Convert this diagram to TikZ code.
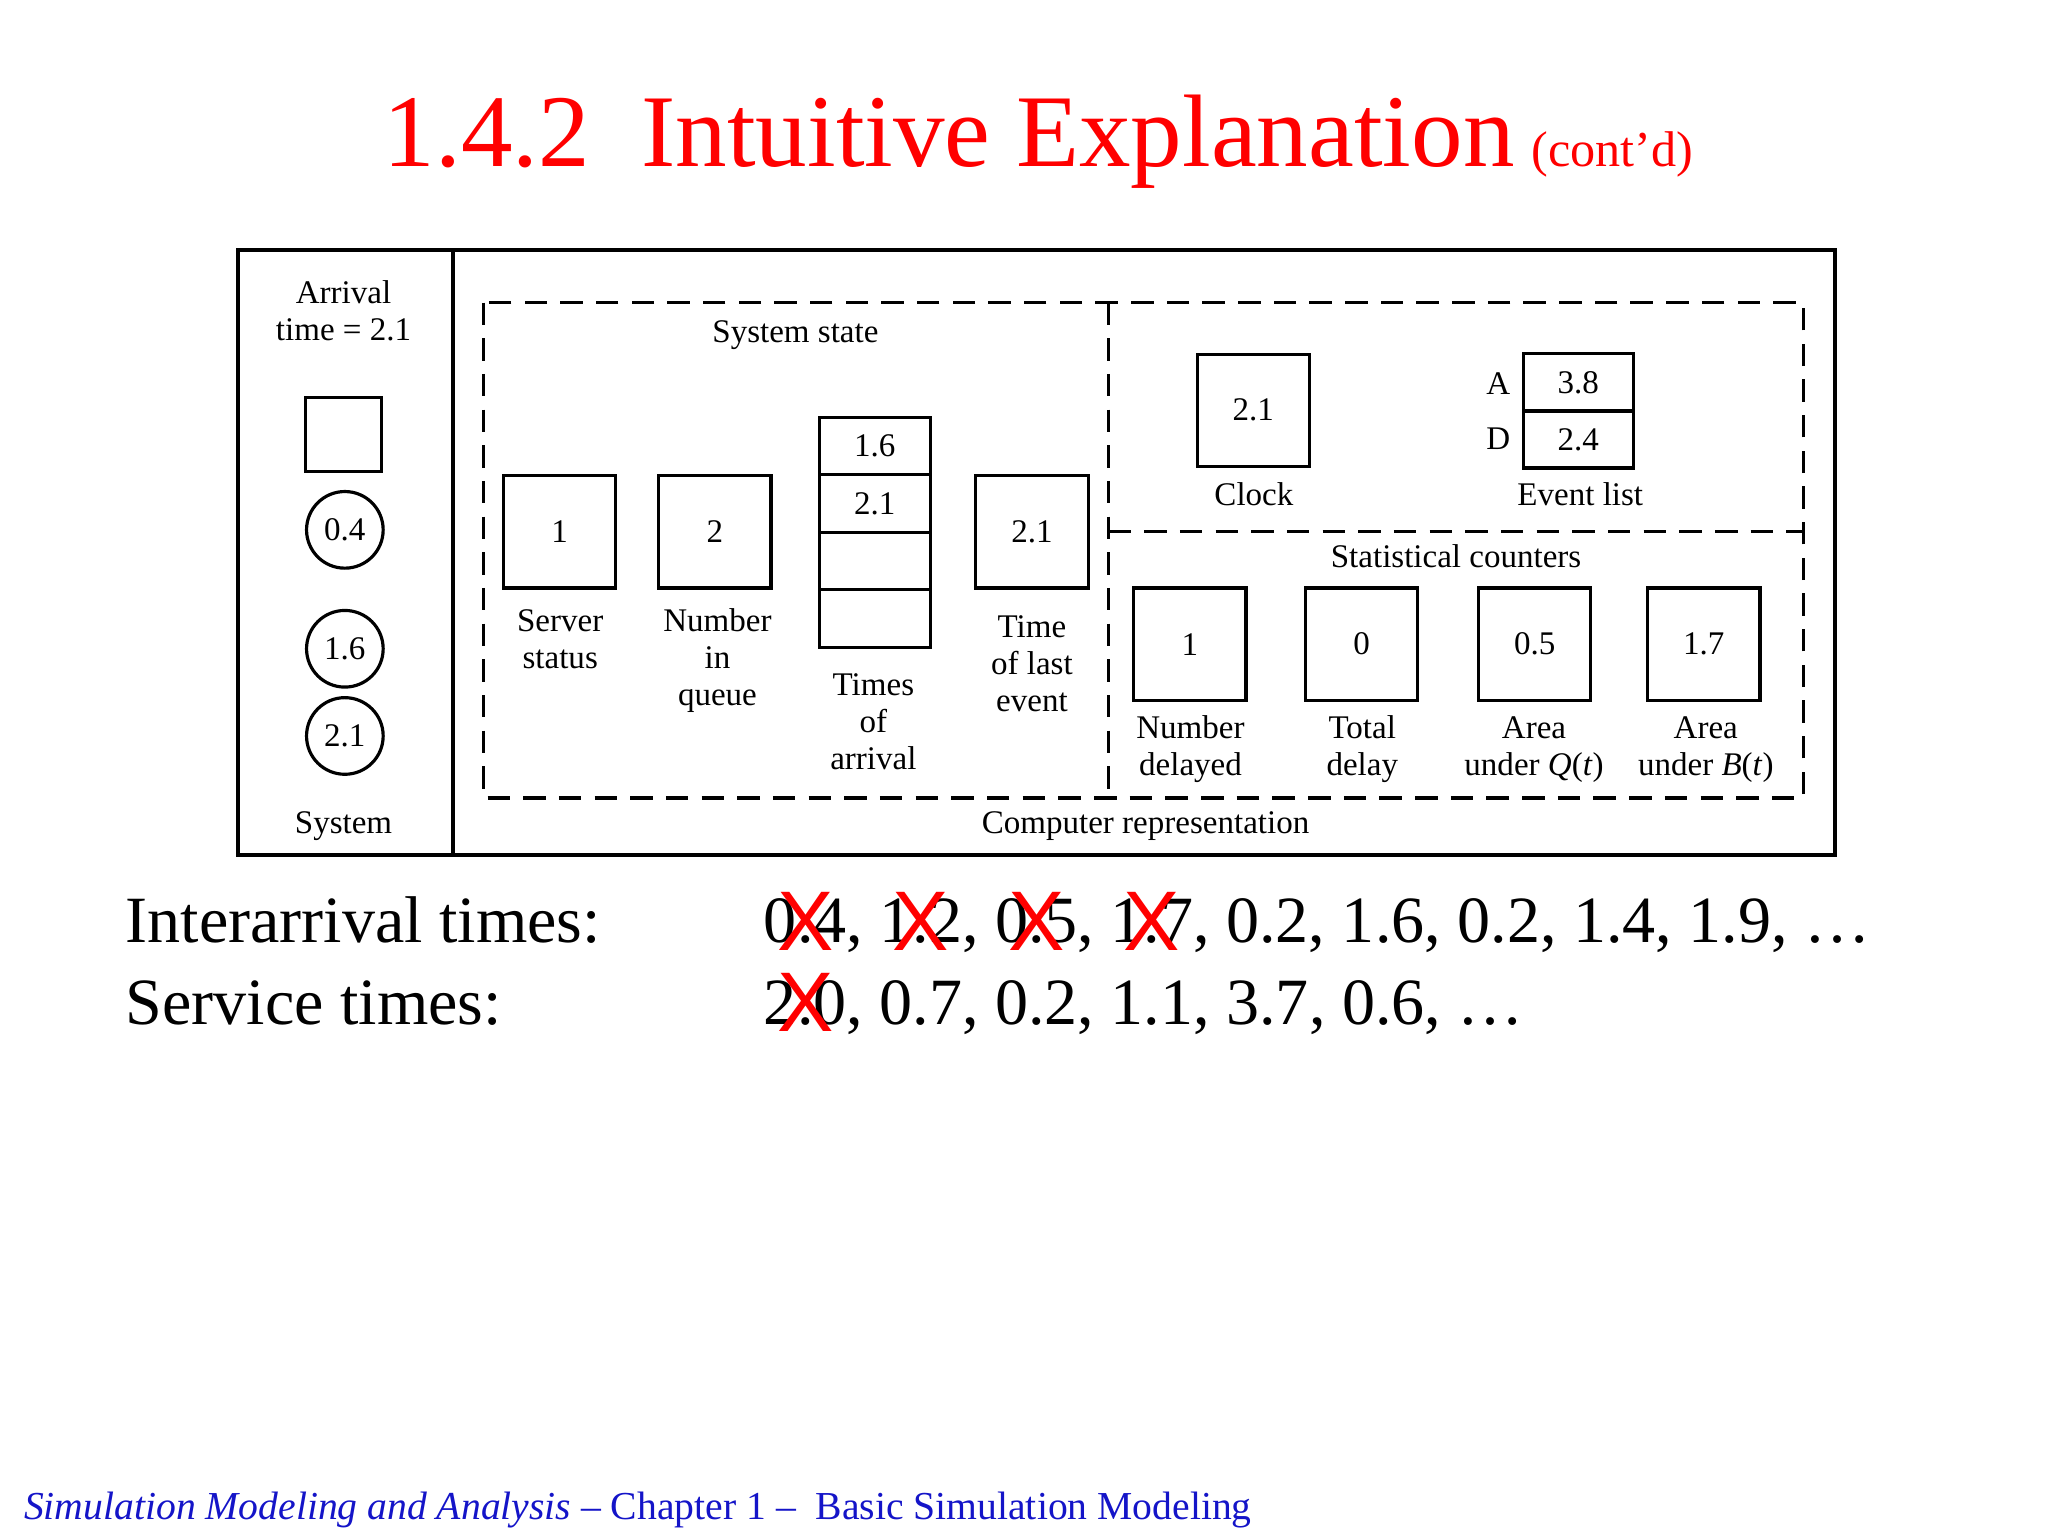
\documentclass[tikz,border=0pt]{standalone}
\usepackage{fontspec}
\setmainfont{Liberation Serif}
\setsansfont{Liberation Sans}
\begin{document}
\begin{tikzpicture}[x=1pt,y=-1pt,
  every node/.style={font=\fontsize{25}{28}\selectfont, align=center, inner sep=0pt},
  bx/.style={draw, line width=2.4pt, minimum width=85pt, minimum height=85pt},
  cell/.style={draw, line width=2.4pt, minimum width=84pt, minimum height=43.5pt},
  cir/.style={draw, circle, line width=2.4pt, minimum size=58pt},
  dsh/.style={line width=2.4pt, dash pattern=on 17pt off 10pt}]
\useasboundingbox (0,0) rectangle (1550,1162.5);
\node[text=red, anchor=base] (title) at (786,126) {\fontsize{78}{78}\selectfont 1.4.2\enspace Intuitive Explanation\,{\fontsize{38}{38}\selectfont(cont'd)}};
% frame
\draw[line width=3pt] (180,189) rectangle (1389,647);
\draw[line width=3pt] (343,189) -- (343,647);
\node (arr) at (260,235) {Arrival\\time = 2.1};
\node[draw, line width=2.4pt, minimum width=58pt, minimum height=56pt] (sq) at (260,329) {};
\node[cir] (c1) at (261,401) {0.4};
\node[cir] (c2) at (261,491) {1.6};
\node[cir] (c3) at (261,557) {2.1};
\node (sys) at (260,625) {System};
% dashed
\draw[dsh] (366,229) rectangle (1365,604);
\draw[dsh] (839,229) -- (839,604);
\draw[dsh] (839,402) -- (1365,402);
\node (ss) at (602,254) {System state};
\node[bx] (srv) at (423.5,402.5) {1};
\node[bx] (nq) at (541,402.5) {2};
\node[cell] (t1) at (662,337.5) {1.6};
\node[cell] (t2) at (662,381) {2.1};
\node[cell] (t3) at (662,424.5) {};
\node[cell] (t4) at (662,468) {};
\node[bx] (tle) at (781,402.5) {2.1};
\node (lsrv) at (424,484) {Server\\status};
\node (lnq) at (543,500) {Number\\in\\queue};
\node (lta) at (661,546) {Times\\of\\arrival};
\node (ltle) at (781,502) {Time\\of last\\event};
\node[bx] (clk) at (948.5,310.5) {2.1};
\node (lclk) at (949,374) {Clock};
\node[cell, minimum width=83pt] (ea) at (1194.5,289.5) {3.8};
\node[cell, minimum width=83pt] (ed) at (1194.5,332.5) {2.4};
\node (la) at (1134,290) {A};
\node (ld) at (1134,332) {D};
\node (lev) at (1196,374) {Event list};
\node (sc) at (1102,421) {Statistical counters};
\node[bx] (s1) at (900.5,487.5) {1};
\node[bx] (s2) at (1030.5,487.5) {0};
\node[bx] (s3) at (1161.5,487.5) {0.5};
\node[bx] (s4) at (1289.5,487.5) {1.7};
\node (l1) at (901,567) {Number\\delayed};
\node (l2) at (1031,567) {Total\\delay};
\node (l3) at (1161,567) {Area\\under \textit{Q}(\textit{t})};
\node (l4) at (1291,567) {Area\\under \textit{B}(\textit{t})};
\node (cr) at (867,625) {Computer representation};
% times
\newcommand\crs[1]{\ooalign{#1\cr\hidewidth\raisebox{-0.12em}{\color{red}\fontsize{64}{64}\selectfont\sffamily X}\hidewidth\cr}}
\node[anchor=base west, font=\fontsize{50}{50}\selectfont] (ia) at (95,713) {Interarrival times:};
\node[anchor=base west, font=\fontsize{50}{50}\selectfont] (iav) at (578,713) {\crs{0.4}, \crs{1.2}, \crs{0.5}, \crs{1.7}, 0.2, 1.6, 0.2, 1.4, 1.9, \dots};
\node[anchor=base west, font=\fontsize{50}{50}\selectfont] (st) at (95,775) {Service times:};
\node[anchor=base west, font=\fontsize{50}{50}\selectfont] (stv) at (578,775) {\crs{2.0}, 0.7, 0.2, 1.1, 3.7, 0.6, \dots};
% footer
\node[anchor=base west, text={rgb,255:red,20;green,20;blue,200}, font=\fontsize{30}{30}\selectfont] (ft) at (18,1150) {\textit{Simulation Modeling and Analysis} -- Chapter 1 --\enspace Basic Simulation Modeling};
\end{tikzpicture}
\end{document}
